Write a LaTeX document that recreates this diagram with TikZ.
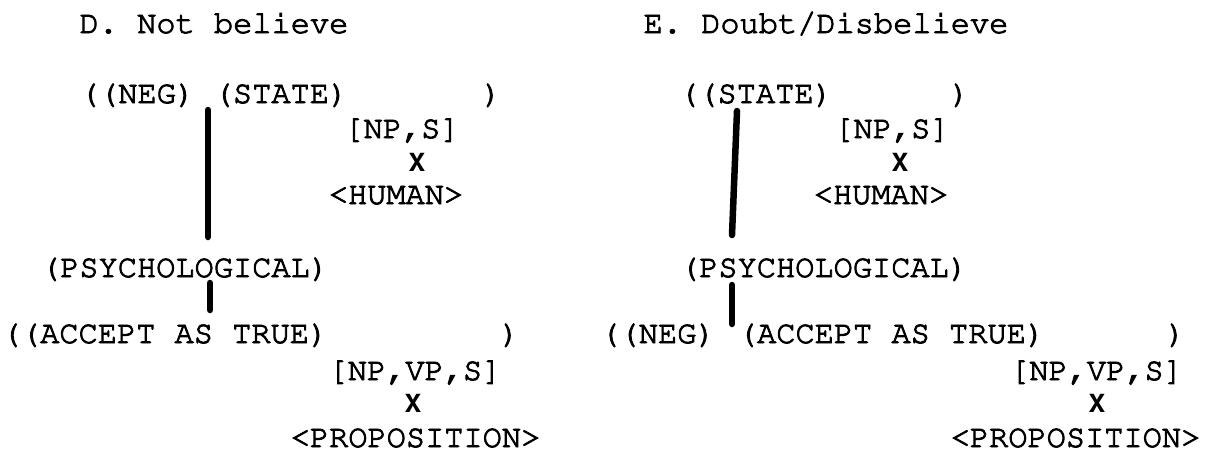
\documentclass[tikz,border=0pt]{standalone}
\usepackage[T1]{fontenc}
\newcommand\heavytext{\special{pdf:literal direct 2 Tr 0.9 w}}
\newcommand\courfont{\fontencoding{T1}\fontfamily{pcr}\fontseries{m}\fontshape{n}\fontsize{32}{38}\selectfont\heavytext}
\newcommand\xfont{\fontencoding{T1}\fontfamily{phv}\fontseries{b}\fontshape{n}\fontsize{25}{30}\selectfont}
\begin{document}
\begin{tikzpicture}[x=1pt,y=-1pt,
  txt/.style={font=\courfont, inner sep=0pt, anchor=base},
  xmark/.style={font=\xfont, inner sep=0pt, anchor=base},
  bar/.style={line width=6.5pt, line cap=round}]
\useasboundingbox (0,0) rectangle (1212,451);
% ---- D ----
\node[txt] (dT) at (214,33) {D. Not believe};
\node[txt] (dneg) at (137.5,103) {((NEG)};
\node[txt] (dstate) at (281,103) {(STATE)};
\node[txt] (dclose1) at (492,103) {)};
\node[txt] (dnps) at (402,138) {[NP,S]};
\node[xmark] (dx1) at (417,171) {X};
\node[txt] (dhuman) at (396,204) {<HUMAN>};
\node[txt] (dpsy) at (185,277) {(PSYCHOLOGICAL)};
\node[txt] (daccept) at (165,343) {((ACCEPT AS TRUE)};
\node[txt] (dclose2) at (510,343) {)};
\node[txt] (dnpvps) at (415,380) {[NP,VP,S]};
\node[xmark] (dx2) at (413,412) {X};
\node[txt] (dprop) at (415.5,447) {<PROPOSITION>};
\coordinate (d1a) at (208,110);
\coordinate (d1b) at (208,237);
\coordinate (d2a) at (210,283);
\coordinate (d2b) at (210,310);
\draw[bar] (d1a) -- (d1b);
\draw[bar] (d2a) -- (d2b);
% ---- E ----
\node[txt] (eT) at (826,33) {E. Doubt/Disbelieve};
\node[txt] (estate) at (756,103) {((STATE)};
\node[txt] (eclose1) at (960,103) {)};
\node[txt] (enps) at (892,138) {[NP,S]};
\node[xmark] (ex1) at (900,171) {X};
\node[txt] (ehuman) at (881,204) {<HUMAN>};
\node[txt] (epsy) at (824,277) {(PSYCHOLOGICAL)};
\node[txt] (eneg) at (658,343) {((NEG)};
\node[txt] (eaccept) at (891.5,343) {(ACCEPT AS TRUE)};
\node[txt] (eclose2) at (1176,343) {)};
\node[txt] (enpvps) at (1096.5,380) {[NP,VP,S]};
\node[xmark] (ex2) at (1097,412) {X};
\node[txt] (eprop) at (1075.5,447) {<PROPOSITION>};
\coordinate (e1a) at (737,111);
\coordinate (e1b) at (732,235);
\coordinate (e2a) at (732,285);
\coordinate (e2b) at (732,324);
\draw[bar] (e1a) -- (e1b);
\draw[bar] (e2a) -- (e2b);
\end{tikzpicture}
\end{document}
